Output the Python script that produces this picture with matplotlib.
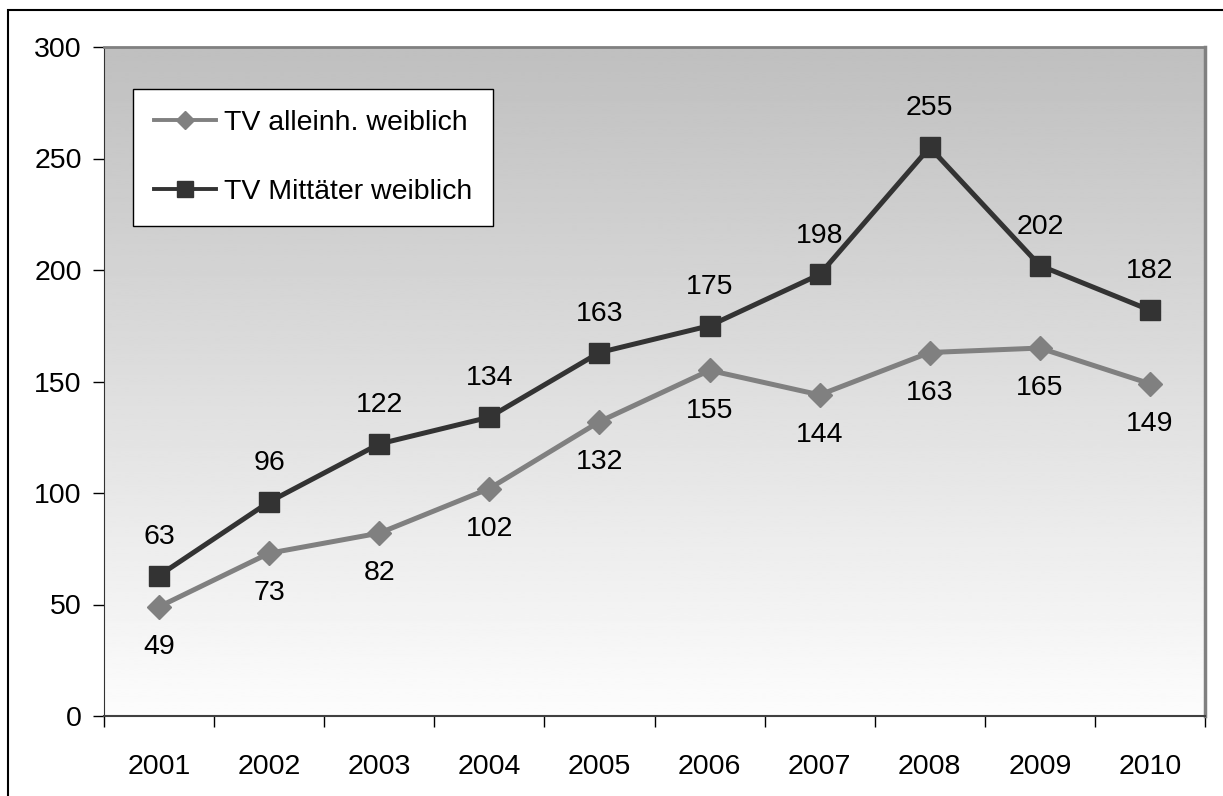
import numpy as np
import matplotlib.pyplot as plt
from matplotlib.patches import Rectangle

plt.rcParams['font.family'] = ['Liberation Sans', 'DejaVu Sans']

jahre = ['2001', '2002', '2003', '2004', '2005', '2006', '2007', '2008', '2009', '2010']
alleinh = [49, 73, 82, 102, 132, 155, 144, 163, 165, 149]
mittaeter = [63, 96, 122, 134, 163, 175, 198, 255, 202, 182]

fs = 20.5

fig = plt.figure(figsize=(12.23, 7.96), dpi=100)
ax = fig.add_axes([104 / 1223, 1 - 716 / 796, 1101 / 1223, 669 / 796])

x = np.arange(len(jahre))

# grey-to-white gradient behind the lines (row 0 = top)
grad = np.linspace(0.75, 0.99, 256).reshape(-1, 1)
ax.imshow(grad, extent=(-0.5, len(jahre) - 0.5, 0, 300), cmap='gray', vmin=0, vmax=1,
          aspect='auto', zorder=0, interpolation='bilinear')
ax.set_xlim(-0.5, len(jahre) - 0.5)
ax.set_ylim(0, 300)

l1, = ax.plot(x, alleinh, color='#808080', lw=3.6, marker='D', markersize=12,
              label='TV alleinh. weiblich', zorder=3)
l2, = ax.plot(x, mittaeter, color='#333333', lw=3.6, marker='s', markersize=14,
              label='TV Mittäter weiblich', zorder=4)

for xi, v in zip(x, alleinh):
    ax.annotate(str(v), (xi, v), xytext=(0, -29), textcoords='offset points',
                ha='center', va='center', fontsize=fs)
for xi, v in zip(x, mittaeter):
    ax.annotate(str(v), (xi, v), xytext=(0, 28), textcoords='offset points',
                ha='center', va='center', fontsize=fs)

# year labels centred, ticks on category borders
ax.set_xticks(np.arange(-0.5, len(jahre)), labels=[''] * (len(jahre) + 1))
ax.set_xticks(x, labels=jahre, minor=True)
ax.tick_params(axis='x', which='major', length=8, width=1, direction='out', color='#000000')
ax.tick_params(axis='x', which='minor', length=0, pad=27, labelsize=fs)
ax.set_yticks(np.arange(0, 301, 50))
ax.tick_params(axis='y', length=8, width=1, direction='out', labelsize=fs, pad=8)

ax.spines['left'].set_color('#333333')
ax.spines['bottom'].set_color('#404040')
ax.spines['bottom'].set_linewidth(1.5)
ax.spines['top'].set_color('#808080')
ax.spines['top'].set_linewidth(2)
ax.spines['right'].set_color('#808080')
ax.spines['right'].set_linewidth(2.5)

leg = ax.legend(handles=[l1, l2], loc='upper left',
                bbox_to_anchor=(133 / 1223, 1 - 89 / 796), bbox_transform=fig.transFigure,
                fontsize=fs, frameon=True, fancybox=False, framealpha=1,
                edgecolor='#000000', handlelength=2.15, handletextpad=0.28,
                labelspacing=1.5, borderpad=0.75, borderaxespad=0, markerscale=0.8)
leg.get_frame().set_linewidth(1)
for ln in leg.get_lines():
    ln.set_linewidth(2.8)

# outer chart frame
fig.add_artist(Rectangle((8 / 1223, -0.1), 1.2, 1.1 - 10 / 796, transform=fig.transFigure,
                         fill=False, edgecolor='#000000', lw=1.5))

fig.savefig('out.png', dpi=100)
